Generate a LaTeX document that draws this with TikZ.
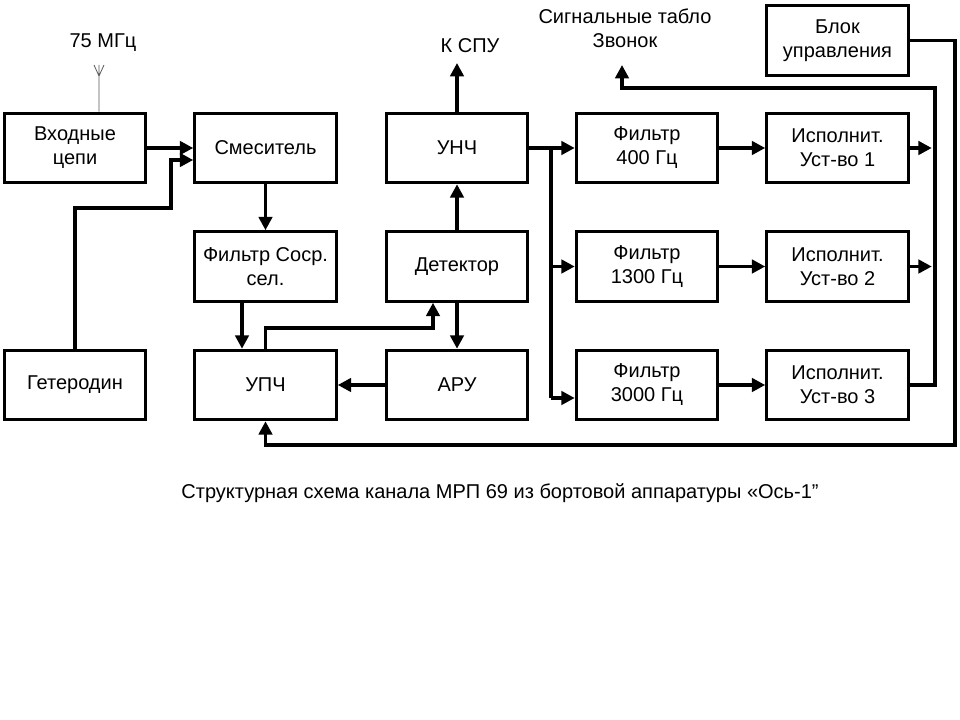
\documentclass[tikz,border=0pt]{standalone}
\usepackage{fontspec}
\setmainfont{Liberation Sans}
\usetikzlibrary{arrows.meta}

\begin{document}
\begin{tikzpicture}[x=0.75pt,y=-0.75pt]
\tikzset{
    blk/.style={draw,line width=2.4pt,minimum width=106pt,minimum height=52pt,align=center,font=\fontsize{15}{18}\selectfont,inner sep=1pt},
    sig/.style={line width=2.6pt,-{Triangle[length=10pt,width=10pt]}},
    wire/.style={line width=2.6pt},
    lbl/.style={font=\fontsize{15}{18}\selectfont,align=center,inner sep=1pt}
}
\useasboundingbox (0,0) rectangle (960,720);

% Blocks, first row
\node[blk] (vhod) at (75,148) {Входные\\цепи};
\node[blk] (smes) at (265.5,148) {Смеситель};
\node[blk] (unch) at (457,148) {УНЧ};
\node[blk] (f400) at (647,148) {Фильтр\\400 Гц};
\node[blk] (isp1) at (837.5,148) {Исполнит.\\Уст-во 1};

% Second row
\node[blk] (fsos) at (265.5,266.5) {Фильтр Соср.\\сел.};
\node[blk] (det) at (457,266.5) {Детектор};
\node[blk] (f1300) at (647,266.5) {Фильтр\\1300 Гц};
\node[blk] (isp2) at (837.5,266.5) {Исполнит.\\Уст-во 2};

% Third row
\node[blk] (get) at (75,385) {Гетеродин};
\node[blk] (upch) at (265.5,385) {УПЧ};
\node[blk] (aru) at (457,385) {АРУ};
\node[blk] (f3000) at (647,385) {Фильтр\\3000 Гц};
\node[blk] (isp3) at (837.5,385) {Исполнит.\\Уст-во 3};

\node[blk] (blok) at (837.5,40.5) {Блок\\управления};

% Labels
\node[lbl] (mhz) at (103,43) {75 МГц};
\node[lbl] (spu) at (470,46) {К СПУ};
\node[lbl] (tablo) at (625,28) {Сигнальные табло\\Звонок};
\node[lbl] (capt) at (500,493) {Структурная схема канала МРП 69 из бортовой аппаратуры «Ось-1\symbol{34}};

% Antenna
\coordinate (ant) at (99,76);
\draw[line width=0.6pt,gray!70!black] (vhod.north -| ant) -- (ant) -- ++(-5,-11) (ant) -- ++(5,-11) (ant) -- ++(0,-11);

% Helper points
\coordinate (fx) at (242,0);
\coordinate (dx) at (433,0);
\coordinate (r3) at (0,398);
\coordinate (top) at (0,63);

% Connections
\draw[sig] (vhod) -- (smes);
\draw[sig] (get.north) |- (171,208) |- ([yshift=-9pt]smes.west);
\draw[sig] (smes) -- (fsos);
\draw[sig] (fsos.south -| fx) -- (upch.north -| fx);
\draw[sig] (upch.north) |- (433,328) -- (det.south -| dx);
\draw[sig] (det) -- (aru);
\draw[sig] (det) -- (unch);
\draw[sig] (unch.north) -- (unch.north |- top);
\draw[sig] (aru) -- (upch);

\coordinate (br) at (551,148);
\draw[wire] (unch.east) -- (br) -- (551,398);
\draw[sig] (br) -- (f400);
\draw[sig] (551,266.5) -- (f1300.west);
\draw[sig] (551,398) -- (f3000.west |- r3);

\draw[sig] (f400) -- (isp1);
\draw[sig] (f1300) -- (isp2);
\draw[sig] (f3000) -- (isp3);

\draw[sig] (isp1.east) -- ++(22,0);
\draw[sig] (isp2.east) -- ++(22,0);
\draw[sig] (isp3.east) -| (935,88) -| (622,65);
\draw[sig] (blok.east) -| (955,445) -| (upch.south);
\end{tikzpicture}
\end{document}
